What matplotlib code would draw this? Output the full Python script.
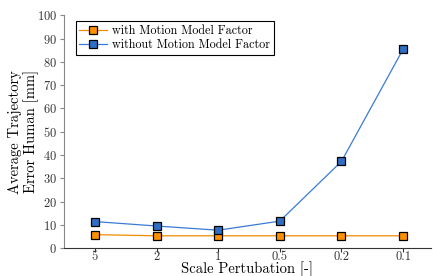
import matplotlib
matplotlib.use('Agg')
import matplotlib.pyplot as plt

plt.rcParams['font.family'] = 'serif'
plt.rcParams['font.serif'] = ['cmr10']
plt.rcParams['mathtext.fontset'] = 'cm'
plt.rcParams['axes.formatter.use_mathtext'] = True

scales = ['5', '2', '1', '0.5', '0.2', '0.1']
with_factor = [5.9, 5.4, 5.4, 5.4, 5.4, 5.4]
without_factor = [11.5, 9.6, 7.8, 11.7, 37.3, 85.4]

fig, ax = plt.subplots(figsize=(4.33, 2.76), dpi=100)
fig.subplots_adjust(left=0.148, right=0.995, bottom=0.10, top=0.945)

x = list(range(len(scales)))
ax.plot(x, with_factor, color='#f08c00', linewidth=0.9, marker='s',
        markersize=5.5, markerfacecolor='#ff9000', markeredgecolor='black',
        markeredgewidth=0.9, label='with Motion Model Factor')
ax.plot(x, without_factor, color='#3a7bd5', linewidth=0.9, marker='s',
        markersize=5.5, markerfacecolor='#2e6fc4', markeredgecolor='black',
        markeredgewidth=0.9, label='without Motion Model Factor')

ax.set_xticks(x)
ax.set_xticklabels(scales)
ax.set_xlim(-0.5, 5.45)
ax.set_ylim(0, 100)
ax.set_yticks(range(0, 101, 10))

ax.spines['top'].set_visible(False)
ax.spines['right'].set_visible(False)
ax.spines['left'].set_color('#888888')
ax.spines['bottom'].set_color('#333333')
ax.tick_params(axis='both', direction='out', length=3, width=0.8,
               labelsize=9, colors='#333333', pad=2)
ax.tick_params(axis='x', pad=-1.2)
ax.tick_params(axis='y', color='#888888')

ax.set_xlabel('Scale Pertubation [-]', fontsize=10.5)
ax.xaxis.set_label_coords(0.5, -0.056)
ax.set_ylabel('Average Trajectory\nError Human [mm]', fontsize=10.5,
              linespacing=1.1)
ax.yaxis.set_label_coords(-0.068, 0.5)

leg = ax.legend(loc='upper left', fontsize=8.7, fancybox=False,
                edgecolor='black', framealpha=1, borderpad=0.3,
                handlelength=2.3, handletextpad=0.4, labelspacing=0.2,
                bbox_to_anchor=(0.015, 1.0))
leg.get_frame().set_linewidth(0.8)

fig.savefig('out.png', dpi=100)
